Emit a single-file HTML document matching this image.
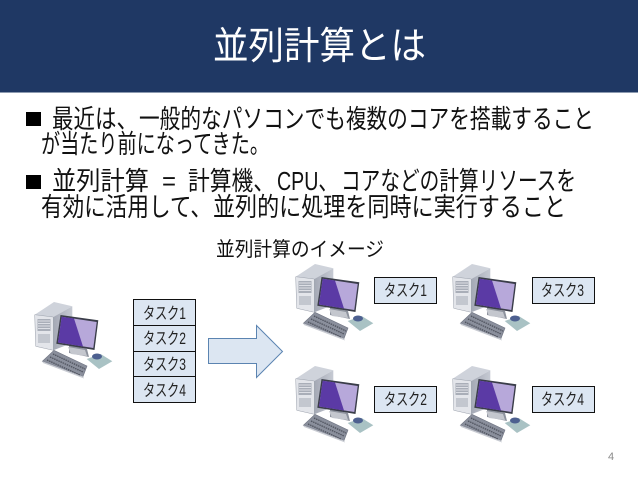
<!DOCTYPE html>
<html lang="ja">
<head>
<meta charset="utf-8">
<style>
html,body{margin:0;padding:0;background:#fff;width:638px;height:479px;overflow:hidden}
svg{display:block}
text{font-family:"Liberation Sans","Noto Sans CJK JP",sans-serif;fill:#111}
.t{font-size:26px}
.b{font-size:16.5px;fill:#222}
</style>
</head>
<body>
<svg width="638" height="479" viewBox="0 0 638 479" xmlns="http://www.w3.org/2000/svg">
<defs>
<linearGradient id="side" x1="0" y1="0" x2="1" y2="0">
<stop offset="0" stop-color="#a4a9b5"/><stop offset="1" stop-color="#c6cad3"/>
</linearGradient>
<g id="pc">
<polygon points="15.7,21.7 35,9 53.3,13.300 34.3,24" fill="#cfd3db"/>
<polygon points="34.3,24 53.3,13.300 53.3,50 34.3,57.300" fill="url(#side)"/>
<polygon points="15.7,21.7 34.3,24 34.3,57.300 16.7,53.300" fill="#e3e5ea" stroke="#9aa0ab" stroke-width=".5"/>
<rect x="18.500" y="26" width="13" height="12" fill="#a9aeb8"/>
<path d="M19 28h12M19 30.500h12M19 33h12M19 35.500h12" stroke="#eef0f3" stroke-width=".8"/>
<rect x="19" y="41" width="12" height="9" fill="#c3c7cf"/>
<polygon points="50,52 68,56 70,64 50,60" fill="#8d929d"/>
<polygon points="41.500,22 79.300,27.300 75.500,57 37.300,50.700" fill="#3a3d49"/>
<polygon points="42.700,23.700 77.700,29 74.300,55 39,49.500" fill="#b7a8da"/>
<polygon points="42.700,23.700 55,25.500 64,53.500 39,49.500" fill="#5b3aa5"/>
<polygon points="49,54 66,57 68,63 52,61" fill="#c4c7ce"/>
<polygon points="23.300,68.300 35,57.300 68,73 64,83.500" fill="#8a8f9c" stroke="#6d7280" stroke-width=".6"/>
<polygon points="23.300,68.300 64,83.500 65,85.500 24,70" fill="#c8cbd2"/>
<path d="M31 64l33 15M34 61l32 15M28 67l33 15" stroke="#50545f" stroke-width="1.300" stroke-dasharray="1.500 .8"/>
<polygon points="67.700,66 81.700,61 93.300,68.300 80,76" fill="#a9c2c4"/>
<ellipse cx="78" cy="63.500" rx="5" ry="3" fill="#4d6090"/>
</g>
</defs>

<rect x="0" y="0" width="638" height="92" fill="#1f3864"/>
<rect x="0" y="92" width="638" height="1" fill="#8c9ab0"/>
<text x="213" y="59" font-size="38" style="fill:#fff" textLength="213" lengthAdjust="spacingAndGlyphs">並列計算とは</text>

<rect x="26" y="112" width="15" height="14" fill="#000"/>
<text class="t" x="52" y="128" textLength="86" lengthAdjust="spacingAndGlyphs">最近は、</text>
<text class="t" x="139" y="128" textLength="455" lengthAdjust="spacingAndGlyphs">一般的なパソコンでも複数のコアを搭載すること</text>
<text class="t" x="41" y="153" textLength="228" lengthAdjust="spacingAndGlyphs">が当たり前になってきた。</text>
<rect x="26" y="175" width="15" height="14" fill="#000"/>
<text class="t" x="52" y="190" textLength="97" lengthAdjust="spacingAndGlyphs">並列計算</text>
<text class="t" x="162" y="190" textLength="14" lengthAdjust="spacingAndGlyphs">=</text>
<text class="t" x="188" y="190" textLength="87" lengthAdjust="spacingAndGlyphs">計算機、</text>
<text class="t" x="277" y="190" textLength="61" lengthAdjust="spacingAndGlyphs">CPU、</text>
<text class="t" x="341" y="190" textLength="235" lengthAdjust="spacingAndGlyphs">コアなどの計算リソースを</text>
<text class="t" x="41" y="216" textLength="171" lengthAdjust="spacingAndGlyphs">有効に活用して、</text>
<text class="t" x="213" y="216" textLength="353" lengthAdjust="spacingAndGlyphs">並列的に処理を同時に実行すること</text>

<text x="216" y="256" font-size="20" textLength="168" lengthAdjust="spacingAndGlyphs">並列計算のイメージ</text>

<use href="#pc" x="19" y="293"/>
<use href="#pc" x="280" y="255"/>
<use href="#pc" x="437" y="255"/>
<use href="#pc" x="280" y="357"/>
<use href="#pc" x="437" y="357"/>

<g fill="#dce6f2" stroke="#111" stroke-width="1">
<rect x="133.500" y="299.500" width="62" height="26"/>
<rect x="133.500" y="325.500" width="62" height="26"/>
<rect x="133.500" y="351.500" width="62" height="25"/>
<rect x="133.500" y="376.500" width="62" height="26"/>
<rect x="374.500" y="277.500" width="62" height="26"/>
<rect x="532.500" y="277.500" width="62" height="26"/>
<rect x="374.500" y="386.500" width="62" height="26"/>
<rect x="532.500" y="386.500" width="62" height="26"/>
</g>
<g>
<text class="b" x="143" y="319" textLength="43" lengthAdjust="spacingAndGlyphs">タスク1</text>
<text class="b" x="143" y="344" textLength="43" lengthAdjust="spacingAndGlyphs">タスク2</text>
<text class="b" x="143" y="370" textLength="43" lengthAdjust="spacingAndGlyphs">タスク3</text>
<text class="b" x="143" y="396" textLength="43" lengthAdjust="spacingAndGlyphs">タスク4</text>
<text class="b" x="384" y="296" textLength="43" lengthAdjust="spacingAndGlyphs">タスク1</text>
<text class="b" x="541" y="296" textLength="43" lengthAdjust="spacingAndGlyphs">タスク3</text>
<text class="b" x="384" y="405" textLength="43" lengthAdjust="spacingAndGlyphs">タスク2</text>
<text class="b" x="541" y="405" textLength="43" lengthAdjust="spacingAndGlyphs">タスク4</text>
</g>

<polygon points="208.500,338.500 256.500,338.500 256.500,325.500 282.500,351.500 256.500,377.500 256.500,363.500 208.500,363.500" fill="#dce6f2" stroke="#5b84b1" stroke-width="1"/>

<text x="608" y="460" font-size="11" style="fill:#8a8a8a">4</text>
</svg>
</body>
</html>
